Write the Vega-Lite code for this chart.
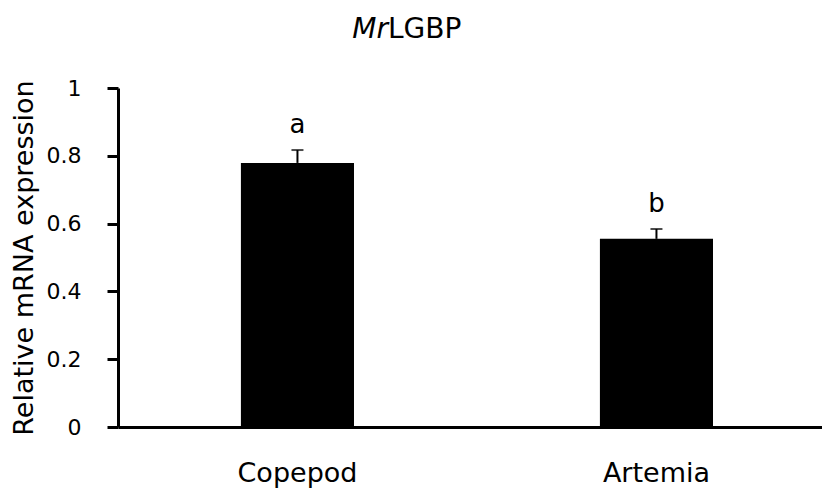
{
  "$schema": "https://vega.github.io/schema/vega-lite/v6.json",
  "width": 704,
  "height": 339,
  "autosize": {"type": "none"},
  "padding": {"left": 118, "top": 88, "right": 0, "bottom": 63},
  "background": "white",
  "config": {
    "view": {"stroke": null},
    "font": "DejaVu Sans",
    "axis": {"grid": false, "domainColor": "black", "tickColor": "black", "labelColor": "black", "titleColor": "black", "labelFont": "DejaVu Sans", "titleFont": "DejaVu Sans"}
  },
  "data": {
    "values": [
      {"group": "Copepod", "value": 0.779, "upper": 0.817, "letter": "a"},
      {"group": "Artemia", "value": 0.555, "upper": 0.584, "letter": "b"}
    ]
  },
  "layer": [
    {
      "encoding": {
        "x": {
          "field": "group", "type": "nominal", "sort": ["Copepod", "Artemia"],
          "scale": {"paddingInner": 0.685, "paddingOuter": 0.323, "align": 0.53},
          "axis": {"title": null, "labelAngle": 0, "ticks": false, "domainWidth": 3, "labelFontSize": 27, "labelPadding": 33}
        }
      },
      "layer": [
        {
          "mark": {"type": "bar", "color": "black"},
          "encoding": {
            "y": {
              "field": "value", "type": "quantitative",
              "scale": {"domain": [0, 1], "nice": false},
              "axis": {"title": "Relative mRNA expression", "titleFontSize": 27, "titleFontWeight": "normal", "titlePadding": 8, "values": [0, 0.2, 0.4, 0.6, 0.8, 1], "labelFontSize": 22, "labelPadding": 26, "tickSize": 11, "tickWidth": 3, "domainWidth": 3, "labelExpr": "datum.value == 0 ? '0' : datum.value == 1 ? '1' : format(datum.value, '.1f')"}
            }
          }
        },
        {
          "mark": {"type": "rule", "color": "black", "strokeWidth": 2},
          "encoding": {
            "y": {"field": "value", "type": "quantitative"},
            "y2": {"field": "upper"}
          }
        },
        {
          "mark": {"type": "tick", "color": "black", "size": 12, "thickness": 2},
          "encoding": {
            "y": {"field": "upper", "type": "quantitative"}
          }
        },
        {
          "mark": {"type": "text", "fontSize": 26, "baseline": "alphabetic", "dy": -17, "color": "black"},
          "encoding": {
            "y": {"field": "upper", "type": "quantitative"},
            "text": {"field": "letter"}
          }
        }
      ]
    },
    {
      "data": {"values": [{"part": "Mr", "rest": "LGBP"}]},
      "encoding": {
        "x": {"datum": 0.3835, "type": "quantitative", "scale": {"domain": [0, 1]}, "axis": null},
        "y": {"datum": 1.147, "type": "quantitative"}
      },
      "layer": [
        {
          "mark": {"type": "text", "fontSize": 28, "fontStyle": "italic", "align": "right", "baseline": "alphabetic", "color": "black"},
          "encoding": {"text": {"field": "part"}}
        },
        {
          "mark": {"type": "text", "fontSize": 28, "align": "left", "baseline": "alphabetic", "color": "black"},
          "encoding": {"text": {"field": "rest"}}
        }
      ]
    }
  ],
  "resolve": {"scale": {"x": "independent"}, "axis": {"x": "independent"}}
}
